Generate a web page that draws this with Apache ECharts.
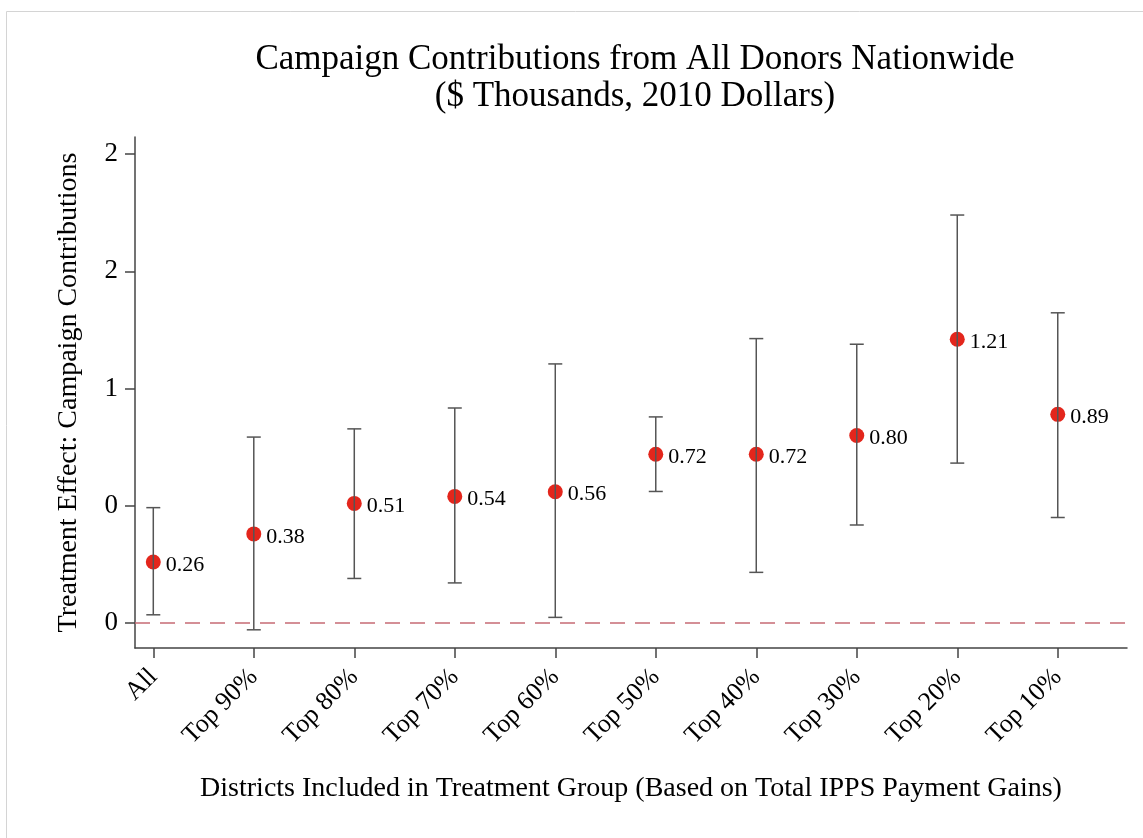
<!DOCTYPE html>
<html>
<head>
<meta charset="utf-8">
<script src="https://cdn.jsdelivr.net/npm/echarts@6/dist/echarts.min.js"></script>
<style>
  html, body { margin: 0; padding: 0; background: #fff; }
  #main { width: 1143px; height: 838px; }
</style>
</head>
<body>
<div id="main"></div>
<script>
// 分组（横轴类别）
const categories = ['All', 'Top 90%', 'Top 80%', 'Top 70%', 'Top 60%', 'Top 50%', 'Top 40%', 'Top 30%', 'Top 20%', 'Top 10%']
// 点估计
const estimates = [0.26, 0.38, 0.51, 0.54, 0.56, 0.72, 0.72, 0.80, 1.21, 0.89]
// 置信区间下限 / 上限
const ciLow = [0.035, -0.029, 0.190, 0.171, 0.024, 0.561, 0.216, 0.418, 0.682, 0.450]
const ciHigh = [0.492, 0.793, 0.828, 0.917, 1.105, 0.879, 1.213, 1.189, 1.740, 1.323]
// 纵轴刻度及标签（原图取整显示）
const yTicks = [0, 0.5, 1, 1.5, 2]
const yTickLabels = ['0', '0', '1', '2', '2']

const serif = "'Liberation Serif', 'Times New Roman', serif"
const xPos = categories.map((c, i) => i + 1)

const myChart = echarts.init(document.getElementById('main'))

const option = {
  backgroundColor: '#fff',
  animation: false,
  title: {
    text: 'Campaign Contributions from All Donors Nationwide\n($ Thousands, 2010 Dollars)',
    left: 630,
    top: 36,
    textAlign: 'center',
    textStyle: {
      fontFamily: serif,
      fontSize: 35,
      fontWeight: 'normal',
      color: '#000',
      lineHeight: 37
    }
  },
  graphic: [{
    type: 'rect',
    silent: true,
    shape: { x: 6.5, y: 11.5, width: 1300, height: 1000 },
    style: { fill: 'none', stroke: '#d4d4d4', lineWidth: 1 }
  }],
  grid: {
    left: 135,
    right: 16,
    top: 137,
    bottom: 190
  },
  xAxis: {
    type: 'value',
    min: 0.818,
    max: 10.689,
    splitLine: { show: false },
    axisLine: { show: true, onZero: false, lineStyle: { color: '#444', width: 1.5 } },
    axisTick: { show: true, length: 10, customValues: xPos, lineStyle: { color: '#444', width: 1.5 } },
    axisLabel: {
      customValues: xPos,
      rotate: 45,
      margin: 25,
      fontFamily: serif,
      fontSize: 26,
      color: '#000',
      formatter: v => categories[Math.round(v) - 1] || ''
    },
    name: 'Districts Included in Treatment Group (Based on Total IPPS Payment Gains)',
    nameLocation: 'middle',
    nameGap: 127,
    nameTextStyle: { fontFamily: serif, fontSize: 28, color: '#000' }
  },
  yAxis: {
    type: 'value',
    min: -0.1066,
    max: 2.0728,
    splitLine: { show: false },
    axisLine: { show: true, lineStyle: { color: '#444', width: 1.5 } },
    axisTick: { show: true, length: 10, customValues: yTicks, lineStyle: { color: '#444', width: 1.5 } },
    axisLabel: {
      customValues: yTicks,
      margin: 17,
      fontFamily: serif,
      fontSize: 27,
      color: '#000',
      formatter: v => yTickLabels[yTicks.indexOf(v)] ?? ''
    },
    name: 'Treatment Effect: Campaign Contributions',
    nameLocation: 'middle',
    nameGap: 52,
    nameTextStyle: { fontFamily: serif, fontSize: 28, color: '#000' }
  },
  series: [{
    // 点估计
    type: 'scatter',
    z: 2,
    symbol: 'circle',
    symbolSize: 15,
    itemStyle: { color: '#e3261c', opacity: 1 },
    label: {
      show: true,
      position: 'right',
      distance: 5,
      offset: [0, 3],
      fontFamily: serif,
      fontSize: 22,
      color: '#000',
      formatter: p => p.value[1].toFixed(2)
    },
    data: estimates.map((v, i) => [xPos[i], v]),
    markLine: {
      silent: true,
      symbol: 'none',
      label: { show: false },
      lineStyle: { color: '#c66b74', width: 1.5, type: [15, 10] },
      data: [{ yAxis: 0 }]
    }
  }, {
    // 置信区间
    type: 'custom',
    z: 3,
    data: ciLow.map((v, i) => [xPos[i], v, ciHigh[i]]),
    encode: { x: 0, y: [1, 2] },
    renderItem(params, api) {
      const lo = api.coord([api.value(0), api.value(1)])
      const hi = api.coord([api.value(0), api.value(2)])
      const cap = 7
      const style = { stroke: '#555', lineWidth: 1.5 }
      return {
        type: 'group',
        children: [
          { type: 'line', shape: { x1: lo[0], y1: lo[1], x2: hi[0], y2: hi[1] }, style },
          { type: 'line', shape: { x1: hi[0] - cap, y1: hi[1], x2: hi[0] + cap, y2: hi[1] }, style },
          { type: 'line', shape: { x1: lo[0] - cap, y1: lo[1], x2: lo[0] + cap, y2: lo[1] }, style }
        ]
      }
    }
  }]
}

myChart.setOption(option)
</script>
</body>
</html>
